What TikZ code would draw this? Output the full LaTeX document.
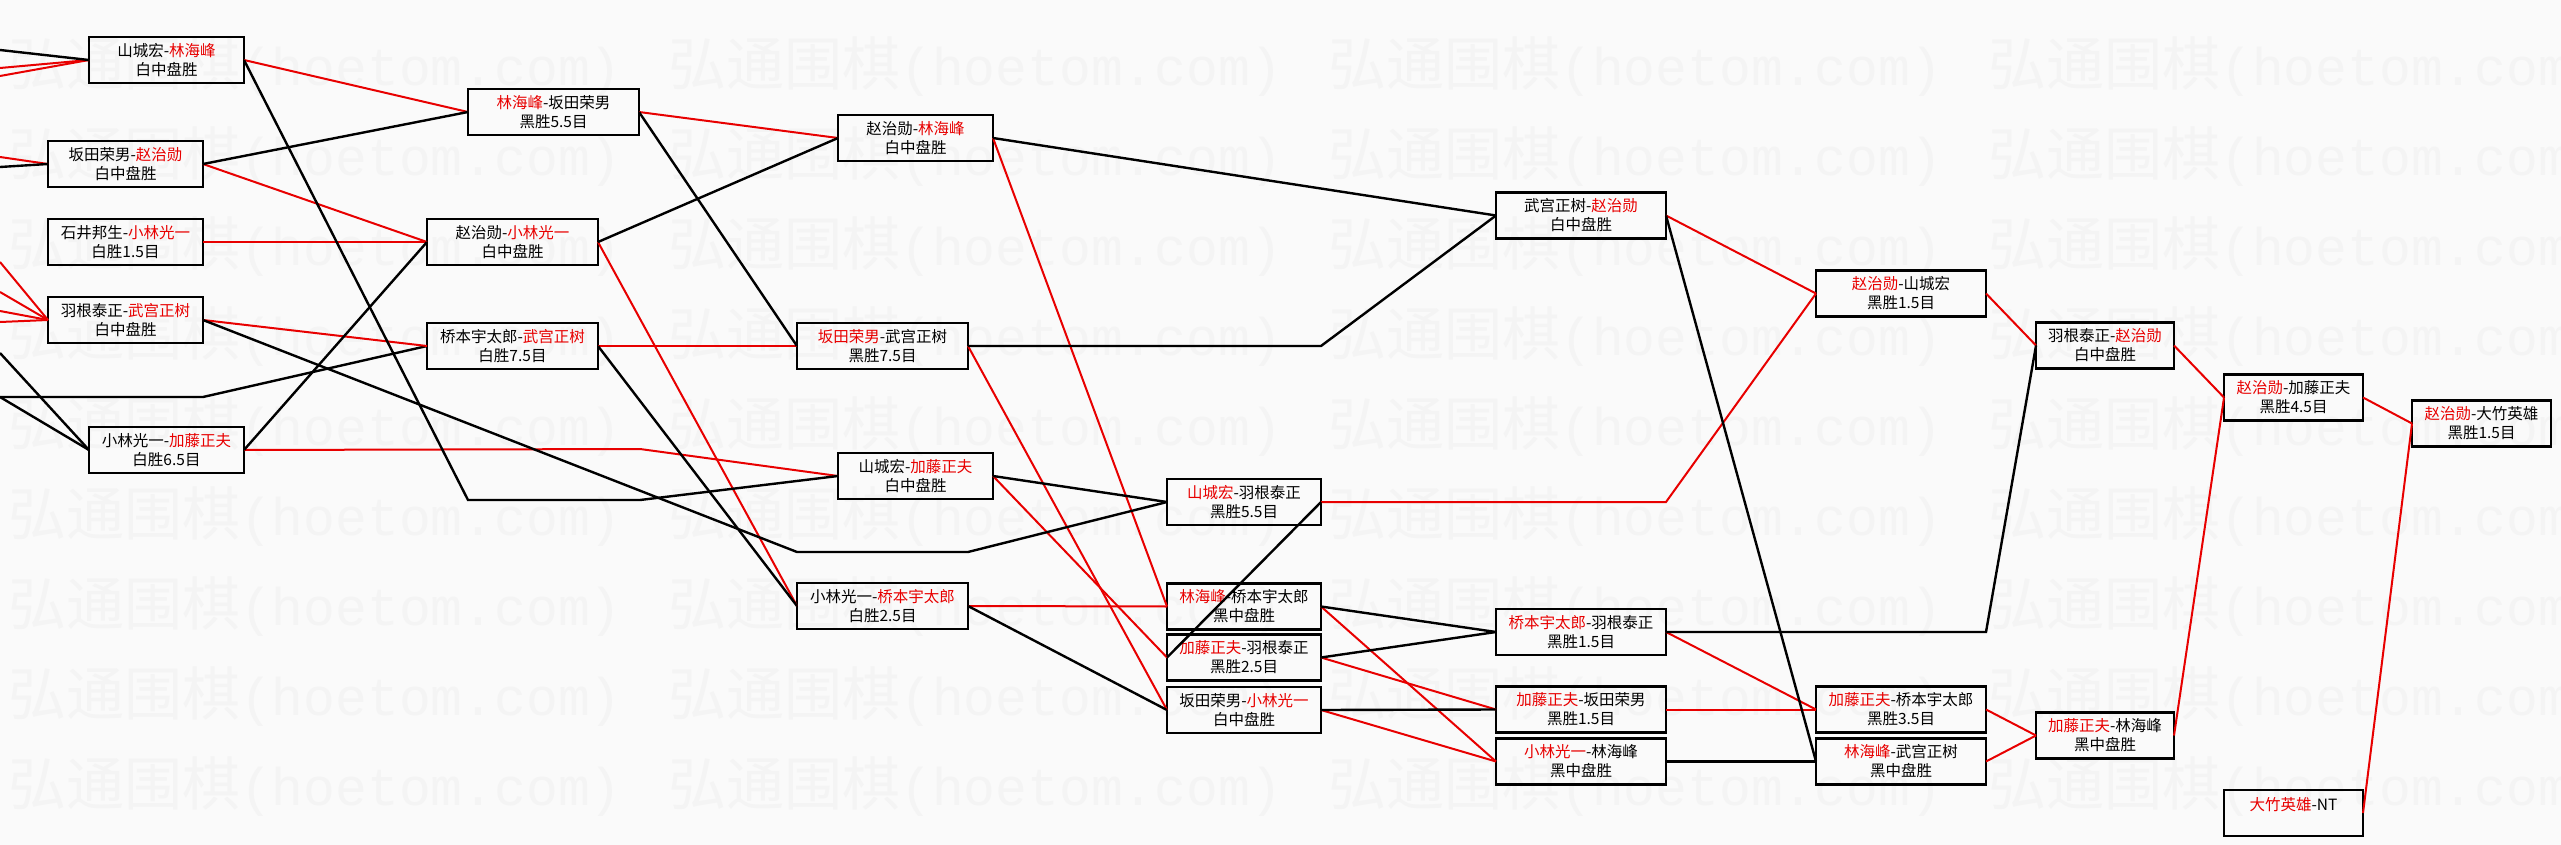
\documentclass[tikz,border=0pt]{standalone}
\usepackage{xcolor}
\usepackage{fontspec}
\setmainfont{Noto Sans CJK SC}
\newfontfamily\monofnt{Liberation Mono}

\definecolor{rojo}{RGB}{232,0,0}
\definecolor{fondo}{RGB}{250,250,250}
\definecolor{marca}{RGB}{244,244,244}
\newcommand{\rj}[1]{\textcolor{rojo}{#1}}

\tikzset{
  partida/.style={draw=black, line width=2.6pt, minimum height=46pt,
    minimum width=#1, inner sep=0pt, outer sep=0pt, align=center,
    font=\fontsize{15.5}{19}\selectfont},
  partida/.default=155pt,
  gana/.style={draw=rojo, line width=2pt},
  pierde/.style={draw=black, line width=2.4pt},
}

\begin{document}
\begin{tikzpicture}[x=1pt,y=-1pt]
        % Paso 1: fondo y marca de agua
        \fill[fondo] (0,0) rectangle (2561,845);
        \useasboundingbox (0,0) rectangle (2561,845);
        \foreach \f in {0,...,8}{
          \foreach \c in {0,...,3}{
            \node[anchor=west, text=marca, inner sep=0pt] (wm-\f-\c) at (8+660*\c,67+90*\f)
              {\fontsize{58}{58}\selectfont 弘通围棋\monofnt\fontsize{53}{53}\selectfont(hoetom.com)};
          }
        }

        % Paso 2: primera columna de partidas
        \node[partida] (A1) at (166.5,60)  {山城宏-\rj{林海峰}\\白中盘胜};
        \node[partida] (A2) at (125.5,164) {坂田荣男-\rj{赵治勋}\\白中盘胜};
        \node[partida] (A3) at (125.5,242) {石井邦生-\rj{小林光一}\\白胜1.5目};
        \node[partida] (A4) at (125.5,320) {羽根泰正-\rj{武宫正树}\\白中盘胜};
        \node[partida] (A5) at (166.5,450) {小林光一-\rj{加藤正夫}\\白胜6.5目};

        % Paso 3: segunda y tercera columna
        \node[partida=171pt] (B1) at (553.5,112) {\rj{林海峰}-坂田荣男\\黑胜5.5目};
        \node[partida=171pt] (B2) at (512.5,242) {赵治勋-\rj{小林光一}\\白中盘胜};
        \node[partida=171pt] (B3) at (512.5,346) {桥本宇太郎-\rj{武宫正树}\\白胜7.5目};

        \node[partida] (C1) at (915.5,138) {赵治勋-\rj{林海峰}\\白中盘胜};
        \node[partida=171pt] (C2) at (882.5,346) {\rj{坂田荣男}-武宫正树\\黑胜7.5目};
        \node[partida] (C3) at (915.5,476) {山城宏-\rj{加藤正夫}\\白中盘胜};
        \node[partida=171pt] (C4) at (882.5,606) {小林光一-\rj{桥本宇太郎}\\白胜2.5目};

        % Paso 4: cuarta y quinta columna
        \node[partida=154pt] (D1) at (1244,502)   {\rj{山城宏}-羽根泰正\\黑胜5.5目};
        \node[partida=154pt] (D2) at (1244,606.5) {\rj{林海峰}-桥本宇太郎\\黑中盘胜};
        \node[partida=154pt] (D3) at (1244,657.5) {\rj{加藤正夫}-羽根泰正\\黑胜2.5目};
        \node[partida=154pt] (D4) at (1244,710)   {坂田荣男-\rj{小林光一}\\白中盘胜};

        \node[partida=170pt] (E1) at (1581,215.5) {武宫正树-\rj{赵治勋}\\白中盘胜};
        \node[partida=170pt] (E2) at (1581,632)   {\rj{桥本宇太郎}-羽根泰正\\黑胜1.5目};
        \node[partida=170pt] (E3) at (1581,709.5) {\rj{加藤正夫}-坂田荣男\\黑胜1.5目};
        \node[partida=170pt] (E4) at (1581,761.5) {\rj{小林光一}-林海峰\\黑中盘胜};

        % Paso 5: columnas finales
        \node[partida=170pt] (F1) at (1901,293.5) {\rj{赵治勋}-山城宏\\黑胜1.5目};
        \node[partida=170pt] (F2) at (1901,709.5) {\rj{加藤正夫}-桥本宇太郎\\黑胜3.5目};
        \node[partida=170pt] (F3) at (1901,761.5) {\rj{林海峰}-武宫正树\\黑中盘胜};

        \node[partida=138pt] (G1) at (2105,345.5) {羽根泰正-\rj{赵治勋}\\白中盘胜};
        \node[partida=138pt] (G2) at (2105,735.5) {\rj{加藤正夫}-林海峰\\黑中盘胜};

        \node[partida=139pt] (H1) at (2293.5,397.5) {\rj{赵治勋}-加藤正夫\\黑胜4.5目};
        \node[partida=139pt] (H2) at (2293.5,813)   {\rj{大竹英雄}-NT\\\mbox{}};

        \node[partida=139pt] (I1) at (2481.5,423.5) {\rj{赵治勋}-大竹英雄\\黑胜1.5目};

        % Paso 6: extremos libres en el borde izquierdo y quiebres
        \foreach \n/\y in {1/50,2/68,3/76,4/157,5/167,6/262,7/292,8/311,9/322,10/353,11/397}
          \coordinate (L\n) at (0,\y);
        \coordinate (q1) at (468,500);
        \coordinate (q2) at (640,500);
        \coordinate (q3) at (797,552);
        \coordinate (q4) at (968,552);
        \coordinate (q5) at (640,449);
        \coordinate (q6) at (203,397);
        \coordinate (q7) at (C2.east -| D1.east);
        \coordinate (q8) at (D1.east -| E1.east);
        \coordinate (q9) at (E2.east -| F1.east);

        % Paso 7: lineas rojas (ganador) y negras (perdedor)
        \foreach \a/\b in {L2/A1,L3/A1,L4/A2,L6/A4,L7/A4,L8/A4,L9/A4}
          \draw[gana] (\a) -- (\b.west);
        \foreach \a/\b in {L1/A1,L5/A2,L10/A5,L11/A5}
          \draw[pierde] (\a) -- (\b.west);
        \draw[pierde] (L11) -- (q6) -- (B3.west);

        \foreach \a/\b in {A1/B1,A2/B2,A3/B2,A4/B3,B1/C1,B2/C4,B3/C2,C1/D2,C2/D4,C3/D3,C4/D2,
                           D2/E4,D3/E3,D4/E4,E1/F1,E2/F2,E3/F2,F1/G1,F2/G2,F3/G2,G1/H1,G2/H1,H1/I1,H2/I1}
          \draw[gana] (\a.east) -- (\b.west);
        \draw[gana] (A5.east) -- (q5) -- (C3.west);
        \draw[gana] (D1.east) -- (q8) -- (F1.west);

        \foreach \a/\b in {A2/B1,A5/B2,B1/C2,B2/C1,B3/C4,C1/E1,C3/D1,C4/D4,D1/D3,D2/E2,D3/E2,D4/E3,E1/F3,E4/F3}
          \draw[pierde] (\a.east) -- (\b.west);
        \draw[pierde] (A1.east) -- (q1) -- (q2) -- (C3.west);
        \draw[pierde] (A4.east) -- (q3) -- (q4) -- (D1.west);
        \draw[pierde] (C2.east) -- (q7) -- (E1.west);
        \draw[pierde] (E2.east) -- (q9) -- (G1.west);
\end{tikzpicture}
\end{document}
